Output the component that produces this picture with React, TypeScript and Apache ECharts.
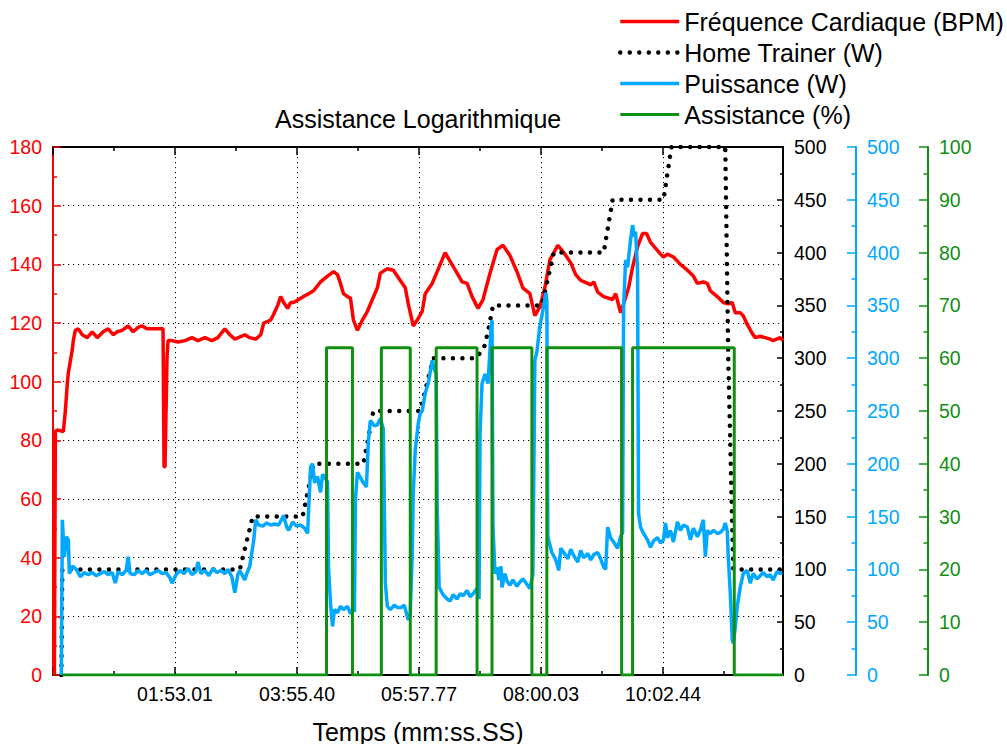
import React, { useEffect, useRef } from "react";
import * as echarts from "echarts";

// time (s) at the left / right edge of the plot, and the x tick spacing
const AXIS_START = -9.38;
const AXIS_END = 722.9;
const TICK_STEP = 122.39;
const TICK_LABELS = ["01:53.01", "03:55.40", "05:57.77", "08:00.03", "10:02.44"];

const SERIES_NAMES = ["Fréquence Cardiaque (BPM)", "Home Trainer (W)", "Puissance (W)", "Assistance (%)"];

// [time (s), BPM]
const HEART_RATE: [number, number][] = [
  [-8, 0], [-7, 83], [-5, 83.5], [1, 83], [3, 90], [5, 99.5], [6, 103], [8, 107], [10, 111], [11, 114],
  [13, 117.5], [16, 118], [20, 116], [25, 115], [30, 117], [35, 115], [41, 117], [46, 118], [51, 116],
  [55, 117], [60, 117.5], [66, 119], [71, 117], [76, 118.5], [80, 119], [85, 118], [101, 118], [102, 71],
  [103, 71], [105, 108], [106, 114], [110, 114], [116, 113.5], [123, 114], [130, 115], [136, 114],
  [143, 115], [150, 114], [156, 115], [163, 118], [168, 116], [173, 114.5], [180, 115.5], [183, 116],
  [188, 115], [194, 114.5], [199, 116], [202, 120], [209, 121], [212, 123], [216, 126], [219, 129],
  [222, 127], [226, 125], [229, 127], [232, 127], [237, 128], [242, 129], [247, 130], [252, 131],
  [259, 134], [266, 136], [272, 137.5], [276, 136.5], [279, 133.5], [282, 130], [286, 129], [289, 128.5],
  [292, 121], [296, 117.5], [301, 121], [306, 124], [311, 128], [316, 132], [319, 137], [326, 138.5],
  [332, 138], [339, 134.5], [344, 132], [347, 126.5], [352, 119], [356, 121], [361, 124], [364, 130],
  [371, 133.5], [376, 137.5], [384, 144], [389, 141], [396, 137], [401, 134], [406, 133.5], [411, 129],
  [417, 125], [422, 128], [429, 137], [436, 145], [442, 146.5], [449, 143], [456, 137.5], [462, 132],
  [469, 130], [474, 122.5], [479, 125.5], [484, 132], [489, 141.5], [497, 146.5], [503, 144], [510, 140.5],
  [515, 136.5], [520, 134.5], [527, 133.5], [530, 133], [533, 134], [537, 130.5], [543, 129], [552, 128],
  [555, 130], [560, 123.5], [563, 126.5], [568, 132], [572, 139], [577, 146], [582, 150.5], [586, 150.5],
  [590, 147.5], [595, 145.5], [600, 143.5], [603, 142.5], [607, 143.5], [613, 142.5], [620, 140],
  [627, 138], [633, 136], [637, 133.5], [643, 134], [647, 133.5], [650, 131], [657, 129], [663, 127],
  [668, 126.5], [672, 127], [675, 123.5], [680, 123.5], [683, 122.5], [687, 119.5], [692, 116.5],
  [695, 115], [700, 115.5], [705, 115], [710, 114.5], [713, 114], [720, 115], [723, 114],
];

// [time (s), W]
const HOME_TRAINER: [number, number][] = [
  [-1, 0], [0, 100], [178, 100], [191, 150], [241, 150], [252, 200], [302, 200], [312, 250],
  [359, 250], [372, 300], [415, 300], [423, 310], [427, 325], [432, 350], [481, 350], [493, 400],
  [543, 400], [552, 450], [603, 450], [611, 500], [665, 500], [668, 300], [673, 100], [723, 100],
];

// [time (s), W]
const POWER: [number, number][] = [
  [-1, 0], [0, 147], [2, 112], [4, 131], [6, 128], [7, 96], [10, 103], [14, 100], [18, 93], [22, 97],
  [26, 95], [30, 97], [34, 94], [38, 96], [42, 98], [46, 95], [50, 97], [53, 87], [56, 98], [60, 95],
  [64, 99], [66, 112], [68, 96], [72, 95], [76, 99], [80, 96], [84, 99], [88, 95], [92, 97], [96, 99],
  [100, 96], [104, 97], [108, 92], [110, 87], [114, 95], [118, 99], [122, 96], [126, 101], [130, 95],
  [134, 98], [136, 107], [139, 96], [143, 99], [147, 94], [151, 101], [155, 97], [159, 99], [163, 96],
  [166, 100], [170, 93], [173, 78], [176, 95], [178, 99], [183, 90], [185, 96], [188, 103], [192, 128],
  [194, 147], [197, 142], [201, 141], [205, 144], [209, 142], [213, 143], [217, 142], [222, 151],
  [225, 140], [227, 137], [231, 145], [235, 141], [239, 142], [243, 139], [246, 134], [249, 197],
  [251, 200], [253, 182], [256, 188], [259, 173], [261, 190], [264, 186], [266, 183], [267, 102],
  [269, 68], [271, 46], [273, 62], [276, 59], [279, 65], [282, 62], [286, 65], [289, 58], [291, 62],
  [293, 60], [294, 166], [296, 192], [299, 187], [302, 182], [305, 178], [307, 222], [309, 241],
  [313, 236], [316, 237], [319, 243], [322, 233], [324, 87], [326, 65], [329, 62], [333, 66], [336, 64],
  [340, 64], [343, 66], [347, 52], [349, 58], [351, 115], [352, 172], [354, 213], [357, 238], [359, 248],
  [361, 250], [364, 267], [367, 276], [371, 298], [373, 290], [375, 285], [376, 160], [378, 83],
  [382, 76], [386, 72], [389, 70], [392, 76], [396, 72], [399, 77], [402, 75], [406, 80], [409, 74],
  [412, 77], [416, 82], [418, 72], [419, 229], [421, 276], [424, 285], [427, 276], [429, 308], [430, 330],
  [431, 336], [432, 140], [434, 96], [436, 102], [438, 90], [440, 103], [441, 83], [444, 96], [446, 89],
  [449, 85], [452, 90], [456, 84], [459, 88], [462, 91], [466, 86], [469, 82], [472, 95], [474, 298],
  [476, 306], [479, 330], [482, 345], [485, 362], [486, 355], [487, 131], [491, 116], [495, 109],
  [498, 99], [500, 120], [503, 116], [507, 110], [510, 119], [513, 113], [517, 107], [520, 118],
  [523, 111], [527, 115], [530, 109], [533, 114], [537, 116], [540, 110], [543, 102], [545, 100],
  [547, 140], [550, 130], [553, 126], [557, 120], [560, 131], [562, 135], [563, 348], [565, 393],
  [567, 386], [568, 395], [570, 412], [572, 426], [574, 415], [575, 420], [577, 383], [578, 153],
  [580, 140], [583, 134], [587, 128], [590, 121], [593, 127], [597, 130], [600, 125], [603, 128],
  [605, 144], [607, 130], [610, 137], [613, 126], [617, 145], [620, 137], [623, 142], [627, 140],
  [630, 128], [633, 139], [637, 131], [640, 137], [643, 147], [645, 112], [647, 137], [650, 134],
  [653, 137], [657, 134], [660, 135], [663, 138], [665, 144], [667, 136], [668, 112], [670, 78],
  [672, 33], [673, 30], [675, 45], [677, 65], [680, 83], [683, 96], [687, 99], [690, 87], [693, 96],
  [697, 91], [700, 94], [703, 97], [707, 93], [710, 95], [713, 90], [717, 98], [720, 96], [722, 97],
];

// [time (s), %] — each value holds until the next time
const ASSISTANCE: [number, number][] = [
  [0, 0], [265, 62], [291, 0], [320, 62], [349, 0], [375, 62], [416, 0], [431, 62], [471, 0],
  [486, 62], [561, 0], [572, 62], [674, 0], [723, 0],
];

const RED = "#ff0000";
const BLACK = "#000000";
const BLUE = "#00a8ff";
const GREEN = "#109010";
const FONT = "Liberation Sans, Arial, sans-serif";

const shift = (d: [number, number][]) => d.map(([t, v]) => [t - AXIS_START, v]);

const gridDots = { color: "#000", type: [1.2, 3.8] as number[], width: 1 };

function yAxis(color: string, max: number, interval: number, position: string, offset: number, grid: boolean, tickLen: number) {
  return {
    type: "value",
    position,
    offset,
    min: 0,
    max,
    interval,
    axisLine: { show: true, onZero: false, lineStyle: { color, width: 2 } },
    axisTick: { show: true, inside: true, length: tickLen, lineStyle: { color, width: 1.5 } },
    minorTick: { show: true, splitNumber: 2, length: tickLen / 2, lineStyle: { color, width: 1.5 } },
    axisLabel: { color, fontSize: 19.5, fontFamily: FONT, margin: 11, showMinLabel: true, showMaxLabel: true },
    splitLine: { show: grid, lineStyle: gridDots },
    minorSplitLine: { show: false },
  };
}

export default function App() {
  const ref = useRef<HTMLDivElement>(null);
  useEffect(() => {
    const chart = echarts.init(ref.current!, null, { renderer: "svg" });
    const span = AXIS_END - AXIS_START;
    const xCommon = {
      type: "value",
      min: 0,
      max: span,
      interval: TICK_STEP,
      axisLine: { show: true, onZero: false, lineStyle: { color: BLACK, width: 2 } },
      axisTick: { show: true, inside: true, length: 8, lineStyle: { color: BLACK, width: 1.5 } },
      minorTick: { show: true, splitNumber: 2, length: 4, lineStyle: { color: BLACK, width: 1.5 } },
    };
    chart.setOption({
      animation: false,
      backgroundColor: "#ffffff",
      textStyle: { fontFamily: FONT },
      title: {
        text: "Assistance Logarithmique",
        left: 275,
        top: 106,
        padding: 0,
        textStyle: { fontSize: 25, fontWeight: "normal", color: BLACK, fontFamily: FONT },
      },
      legend: {
        orient: "vertical",
        left: 618,
        top: 6,
        padding: 0,
        itemGap: 0,
        itemWidth: 59,
        itemHeight: 14,
        itemStyle: { opacity: 0 },
        lineStyle: { width: "inherit" },
        data: SERIES_NAMES,
        textStyle: { fontSize: 25, color: BLACK, fontFamily: FONT, lineHeight: 31 },
      },
      grid: { left: 53, right: 224, top: 147, bottom: 69, containLabel: false, outerBoundsMode: "none" },
      xAxis: [
        {
          ...xCommon,
          position: "bottom",
          axisLabel: {
            color: BLACK,
            fontSize: 19.5,
            fontFamily: FONT,
            margin: 9,
            formatter: (v: number) => {
              const i = Math.round(v / TICK_STEP) - 1;
              return i >= 0 && i < TICK_LABELS.length && Math.abs(v - (i + 1) * TICK_STEP) < 1 ? TICK_LABELS[i] : "";
            },
          },
          splitLine: { show: true, lineStyle: gridDots },
          name: "Temps (mm:ss.SS)",
          nameLocation: "middle",
          nameGap: 44,
          nameTextStyle: { fontSize: 25, color: BLACK, fontFamily: FONT },
        },
        {
          ...xCommon,
          position: "top",
          axisLabel: { show: false },
          splitLine: { show: false },
        },
      ],
      yAxis: [
        yAxis(RED, 180, 20, "left", 0, true, 8),
        yAxis(BLACK, 500, 50, "right", 0, false, 6),
        yAxis(BLUE, 500, 50, "right", 73, false, 9),
        yAxis(GREEN, 100, 10, "right", 145, false, 9),
      ],
      series: [
        {
          name: SERIES_NAMES[0],
          type: "line",
          yAxisIndex: 0,
          symbol: "none",
          data: shift(HEART_RATE),
          lineStyle: { color: RED, width: 3.5 },
          itemStyle: { color: RED },
        },
        {
          name: SERIES_NAMES[1],
          type: "line",
          yAxisIndex: 1,
          symbol: "none",
          data: shift(HOME_TRAINER),
          lineStyle: { color: BLACK, width: 4.5, type: [0.01, 9.5], cap: "round" },
          itemStyle: { color: BLACK },
        },
        {
          name: SERIES_NAMES[2],
          type: "line",
          yAxisIndex: 2,
          symbol: "none",
          data: shift(POWER),
          lineStyle: { color: BLUE, width: 3.5 },
          itemStyle: { color: BLUE },
        },
        {
          name: SERIES_NAMES[3],
          type: "line",
          yAxisIndex: 3,
          symbol: "none",
          step: "end",
          data: shift(ASSISTANCE),
          lineStyle: { color: GREEN, width: 3 },
          itemStyle: { color: GREEN },
        },
      ],
    });
    return () => chart.dispose();
  }, []);
  return <div ref={ref} style={{ position: "fixed", left: 0, top: 0, width: 1007, height: 744 }} />;
}
